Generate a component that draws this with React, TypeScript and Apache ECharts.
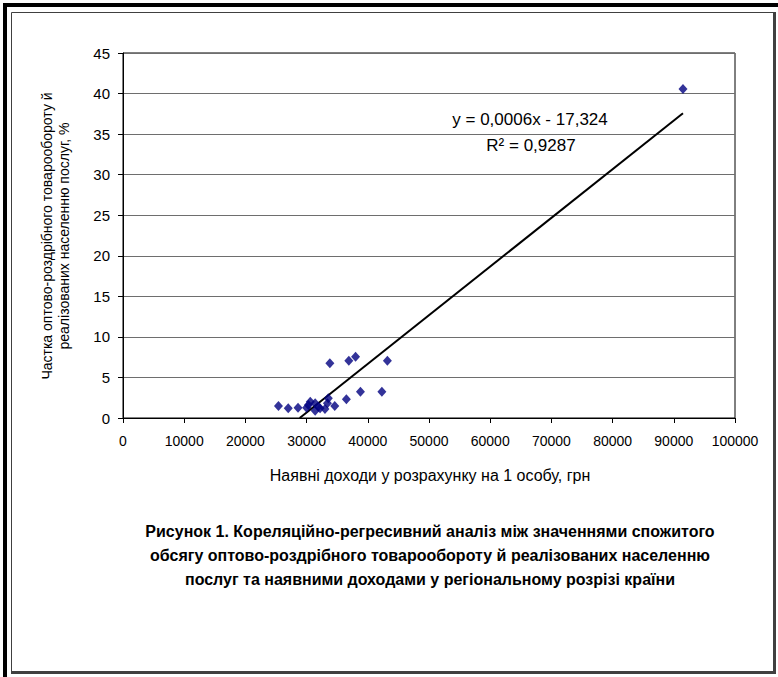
import React, { useEffect, useRef } from "react";
import * as echarts from "echarts";

const incomeX: number[] = [
  25400, 27000, 28600, 30000, 30300, 30600, 31400, 31400, 31900, 32200,
  33000, 33400, 33550, 34600, 36500, 38800, 42300, 33800, 36900, 38000,
  43200, 91500,
];
const shareY: number[] = [
  1.48, 1.19, 1.27, 1.27, 1.6, 2.0, 1.81, 0.9, 1.4, 1.2,
  1.11, 1.81, 2.43, 1.48, 2.3, 3.24, 3.24, 6.74, 7.07, 7.56,
  7.07, 40.56,
];
const trendSlope = 0.0006;
const trendIntercept = -17.324;
const eqText = "y = 0,0006x - 17,324";
const r2Text = "R² = 0,9287";
const xTitle = "Наявні доходи у розрахунку на 1 особу, грн";
const yTitle1 = "Частка оптово-роздрібного товарообороту й";
const yTitle2 = "реалізованих населенню послуг, %";
const captionLines: string[] = [
  "Рисунок 1. Кореляційно-регресивний аналіз між значеннями спожитого",
  "обсягу оптово-роздрібного товарообороту й реалізованих населенню",
  "послуг та наявними доходами у регіональному розрізі країни",
];

const FONT = "'Liberation Sans', Arial, sans-serif";

export default function App() {
  const ref = useRef<HTMLDivElement>(null);
  useEffect(() => {
    if (!ref.current) return;
    const chart = echarts.init(ref.current, null, { renderer: "svg" });
    const points = incomeX.map((x, i) => [x, shareY[i]]);
    const maxX = Math.max(...incomeX);
    const x0 = -trendIntercept / trendSlope;
    const trend = [
      [x0, 0],
      [maxX, trendSlope * maxX + trendIntercept],
    ];
    chart.setOption({
      animation: false,
      backgroundColor: "#fff",
      textStyle: { fontFamily: FONT },
      grid: {
        left: 123,
        top: 53,
        right: 43,
        bottom: 259,
        show: true,
        borderColor: "#000",
        borderWidth: 1,
      },
      xAxis: {
        type: "value",
        min: 0,
        max: 100000,
        interval: 10000,
        axisLine: { show: true, onZero: false, lineStyle: { color: "#000", width: 1 } },
        axisTick: { show: true, length: 5, lineStyle: { color: "#000" } },
        axisLabel: {
          color: "#000",
          fontSize: 14,
          fontFamily: FONT,
          margin: 16,
          formatter: (v: number) => String(v),
        },
        splitLine: { show: false },
      },
      yAxis: {
        type: "value",
        min: 0,
        max: 45,
        interval: 5,
        axisLine: { show: true, onZero: false, lineStyle: { color: "#000", width: 1 } },
        axisTick: { show: true, length: 5, lineStyle: { color: "#000" } },
        axisLabel: { color: "#000", fontSize: 15, fontFamily: FONT, margin: 13 },
        splitLine: { show: true, lineStyle: { color: "#6e6e6e", width: 1 } },
      },
      series: [
        {
          type: "line",
          data: trend,
          showSymbol: false,
          symbol: "none",
          lineStyle: { color: "#000", width: 2 },
          z: 3,
        },
        {
          type: "scatter",
          data: points,
          symbol: "diamond",
          symbolSize: [9, 10],
          itemStyle: { color: "#000080" },
          z: 4,
        },
      ],
      graphic: [
        { type: "rect", shape: { x: 3, y: 3, width: 775, height: 4 }, style: { fill: "#000" } },
        { type: "rect", shape: { x: 3, y: 3, width: 4, height: 674 }, style: { fill: "#000" } },
        {
          type: "rect",
          shape: { x: 11.5, y: 12.5, width: 762, height: 659 },
          style: { fill: "none", stroke: "#404040", lineWidth: 1 },
        },
        { type: "rect", shape: { x: 773, y: 12, width: 3, height: 662 }, style: { fill: "#404040" } },
        { type: "rect", shape: { x: 11, y: 671, width: 765, height: 3 }, style: { fill: "#404040" } },
        {
          type: "text",
          x: 530,
          y: 119,
          style: { text: eqText, fill: "#000", font: `17px ${FONT}`, textAlign: "center", textVerticalAlign: "middle" },
        },
        {
          type: "text",
          x: 531,
          y: 145,
          style: { text: r2Text, fill: "#000", font: `17px ${FONT}`, textAlign: "center", textVerticalAlign: "middle" },
        },
        {
          type: "text",
          x: 430,
          y: 475,
          style: { text: xTitle, fill: "#000", font: `16px ${FONT}`, textAlign: "center", textVerticalAlign: "middle" },
        },
        {
          type: "text",
          x: 47,
          y: 236,
          rotation: Math.PI / 2,
          style: { text: yTitle1, fill: "#000", font: `14px ${FONT}`, textAlign: "center", textVerticalAlign: "middle" },
        },
        {
          type: "text",
          x: 64,
          y: 236,
          rotation: Math.PI / 2,
          style: { text: yTitle2, fill: "#000", font: `14px ${FONT}`, textAlign: "center", textVerticalAlign: "middle" },
        },
        ...captionLines.map((t, i) => ({
          type: "text",
          x: 430,
          y: 531 + i * 24,
          style: { text: t, fill: "#000", font: `bold 16px ${FONT}`, textAlign: "center", textVerticalAlign: "middle" },
        })),
      ],
    });
    return () => chart.dispose();
  }, []);
  return (
    <div
      ref={ref}
      style={{ position: "fixed", left: 0, top: 0, width: 778, height: 677, background: "#fff" }}
    />
  );
}
